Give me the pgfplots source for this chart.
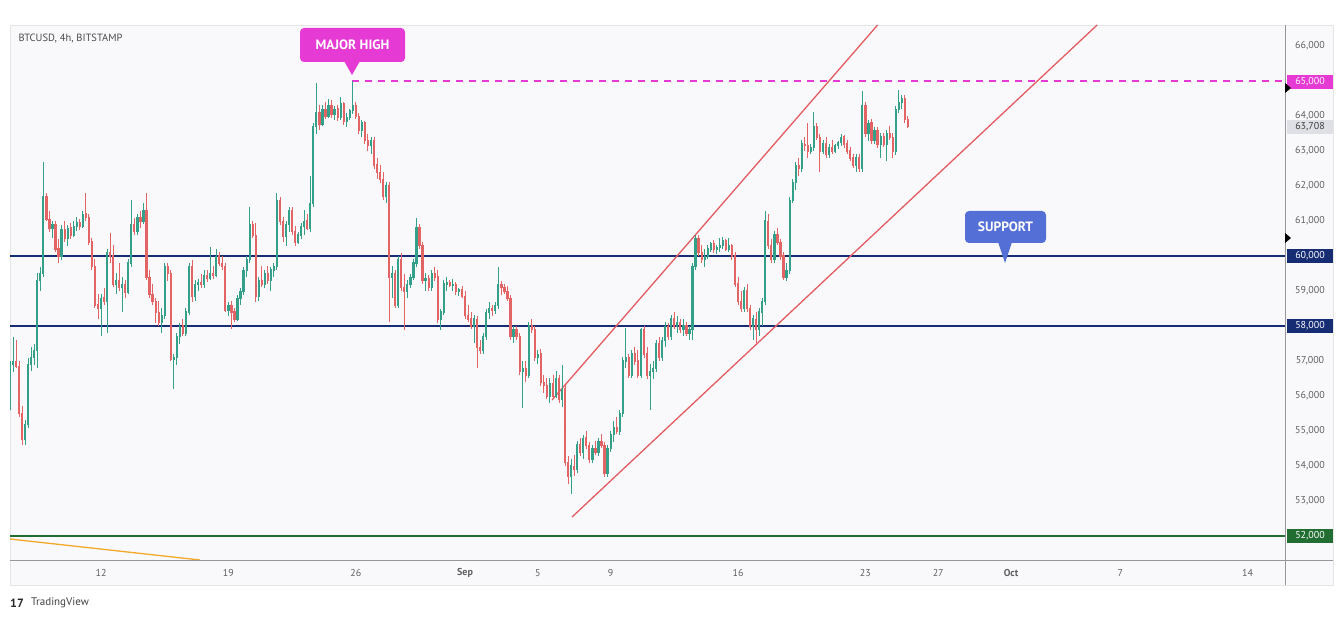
\documentclass[border=0pt]{standalone}
\usepackage{pgfplots}
\pgfplotsset{compat=1.18}
\usepackage{pgfplotstable}
\usepackage{fontspec}
\setmainfont{PT Sans}
\definecolor{upc}{RGB}{52,160,138}
\definecolor{dnc}{RGB}{226,100,100}
\definecolor{navy}{RGB}{22,45,115}
\definecolor{sgreen}{RGB}{34,110,50}
\definecolor{mag}{RGB}{230,58,212}
\definecolor{chan}{RGB}{226,92,98}
\definecolor{orng}{RGB}{242,168,40}
\definecolor{panel}{RGB}{249,249,251}
\definecolor{agray}{RGB}{150,150,156}
\definecolor{tgray}{RGB}{95,95,100}
\definecolor{supblue}{RGB}{84,112,214}
\definecolor{lastg}{RGB}{222,224,230}
\pgfplotstableread{
i o h l c
0 56000 57000 55600 56900
1 56900 57700 56700 57000
2 57000 57600 56800 56850
3 56850 57000 55400 55500
4 55500 55700 54600 54750
5 54750 55300 54600 55200
6 55200 57100 55100 56900
7 56900 57400 56700 57100
8 57100 57500 56900 57300
9 57300 59500 56800 59300
10 59300 59700 59000 59500
11 59500 62700 59400 61700
12 61700 61800 61000 61050
13 61050 61300 60700 60800
14 60800 61000 60500 60900
15 60900 61000 60100 60200
16 60200 60500 59800 60000
17 60000 60900 59900 60750
18 60750 61000 60400 60500
19 60500 60900 60300 60800
20 60800 60950 60500 60600
21 60600 61000 60550 60850
22 60850 61100 60700 60950
23 60950 61050 60750 60850
24 60850 61300 60800 61200
25 61200 61800 61000 61100
26 61100 61200 60300 60400
27 60400 60500 59600 59700
28 59700 59900 58500 58600
29 58600 58900 58200 58500
30 58500 58900 57700 58800
31 58800 59100 58600 58700
32 58700 60200 57800 60100
33 60100 60650 59800 60000
34 60000 60300 59100 59200
35 59200 59500 58900 59300
36 59300 59800 59000 59100
37 59100 59400 58400 59200
38 59200 59300 58800 58950
39 58950 59900 58900 59800
40 59800 61600 59700 60900
41 60900 61100 60600 60700
42 60700 61200 60600 61100
43 61100 61300 60800 61000
44 61000 61500 60900 61300
45 61300 61800 59300 59400
46 59400 59600 58800 58900
47 58900 59200 58600 58700
48 58700 58800 58100 58400
49 58400 58700 58000 58100
50 58100 58500 57800 58300
51 58300 59800 58200 59700
52 59700 59800 59300 59500
53 59500 59600 57000 57050
54 57050 57200 56200 57100
55 57100 57800 56900 57700
56 57700 58100 57500 58000
57 58000 58200 57700 57800
58 57800 58500 57700 58400
59 58400 59800 58300 59700
60 59700 59900 58700 58850
61 58850 59300 58700 59200
62 59200 59350 59000 59250
63 59250 59500 59100 59200
64 59200 59600 59100 59450
65 59450 59600 59250 59350
66 59350 60250 59300 59500
67 59500 59700 59350 59450
68 59450 60200 59400 60000
69 60000 60100 59700 59800
70 59800 60000 59600 59700
71 59700 59800 58400 58450
72 58450 58700 58300 58600
73 58600 58700 57900 58400
74 58400 58500 58100 58200
75 58200 58900 58150 58800
76 58800 59100 58600 59000
77 59000 59700 58900 59600
78 59600 60000 59400 59900
79 59900 61400 59800 60900
80 60900 61000 60500 60600
81 60600 60950 58700 58850
82 58850 59400 58700 59300
83 59300 59700 59100 59200
84 59200 59600 59100 59500
85 59500 59700 59200 59300
86 59300 59700 59000 59600
87 59600 59800 59400 59700
88 59700 61800 59600 61600
89 61600 61700 60900 61000
90 61000 61100 60400 60550
91 60550 61000 60300 60900
92 60900 61400 60700 61300
93 61300 61400 60600 60700
94 60700 60850 60300 60400
95 60400 60700 60350 60600
96 60600 60950 60500 60850
97 60850 61300 60600 61000
98 61000 61200 60750 60800
99 60800 62300 60700 61500
100 61500 63800 61400 63700
101 63700 64950 63500 64100
102 64100 64300 63600 63750
103 63750 64300 63700 64200
104 64200 64400 63900 64000
105 64000 64500 63950 64300
106 64300 64450 63950 64050
107 64050 64300 63900 64200
108 64200 64300 63850 63950
109 63950 64550 63900 64350
110 64350 64400 63750 63850
111 63850 64100 63700 63950
112 63950 64200 63900 64150
113 64150 65000 64050 64300
114 64300 64400 63900 64000
115 64000 64100 63500 63600
116 63600 63900 63400 63800
117 63800 63850 63200 63300
118 63300 63500 63000 63150
119 63150 63400 62900 63300
120 63300 63400 62500 62600
121 62600 62800 62200 62400
122 62400 62600 62100 62200
123 62200 62400 61600 61700
124 61700 62100 61500 62000
125 62000 62100 58100 59400
126 59400 59700 58800 59500
127 59500 59600 58500 58600
128 58600 60000 58500 59900
129 59900 60100 59000 59100
130 59100 59500 57900 59000
131 59000 59300 58800 59200
132 59200 59500 59100 59400
133 59400 59900 59300 59800
134 59800 61100 59700 60800
135 60800 60900 60200 60300
136 60300 60400 59200 59300
137 59300 59500 59000 59350
138 59350 59450 59000 59100
139 59100 59600 59000 59500
140 59500 59700 59300 59400
141 59400 59600 58100 58200
142 58200 58500 57900 58400
143 58400 59300 58300 59200
144 59200 59400 59000 59250
145 59250 59300 59100 59150
146 59150 59350 59000 59200
147 59200 59250 58900 59000
148 59000 59100 58850 59050
149 59050 59150 58800 58850
150 58850 59000 58200 58300
151 58300 58600 58100 58200
152 58200 58400 57900 58000
153 58000 58300 57500 58200
154 58200 58300 56800 57400
155 57400 57600 57200 57300
156 57300 57800 57200 57700
157 57700 58500 57600 58400
158 58400 58700 58200 58500
159 58500 58600 58300 58450
160 58450 58700 58350 58600
161 58600 59700 58500 59200
162 59200 59300 58900 59100
163 59100 59200 58900 59000
164 59000 59150 58700 58800
165 58800 58900 57600 57700
166 57700 58000 57500 57900
167 57900 58000 57600 57700
168 57700 57800 56600 56700
169 56700 57000 55650 56800
170 56800 57000 56400 56600
171 56600 58100 56500 58000
172 58000 58200 57800 57900
173 57900 58000 57000 57100
174 57100 57300 56900 57200
175 57200 57350 56300 56400
176 56400 56600 56100 56300
177 56300 56500 55900 56000
178 56000 56500 55800 56350
179 56350 56600 55900 56000
180 56000 56700 55950 56500
181 56500 56600 55800 55900
182 55900 56900 55700 56200
183 56200 56300 54000 54100
184 54100 54300 53500 53700
185 53700 54200 53200 54000
186 54000 54300 53700 53900
187 53900 54700 53800 54600
188 54600 54800 54300 54400
189 54400 54900 54200 54800
190 54800 55000 54500 54600
191 54600 54700 54100 54200
192 54200 54600 54100 54500
193 54500 54700 54300 54400
194 54400 54800 54300 54700
195 54700 54900 54500 54600
196 54600 54700 53700 53800
197 53800 54600 53700 54500
198 54500 55000 54400 54900
199 54900 55300 54700 55100
200 55100 55400 54900 55000
201 55000 55600 54900 55500
202 55500 57100 55400 57000
203 57000 57950 56800 57100
204 57100 57200 56500 56600
205 56600 57300 56500 57200
206 57200 57400 56900 57000
207 57000 57300 56500 56600
208 56600 57950 56500 57900
209 57900 58000 57100 57200
210 57200 57400 56500 56600
211 56600 56900 55600 56700
212 56700 57000 56500 56800
213 56800 57600 56700 57500
214 57500 57700 57000 57100
215 57100 57700 57000 57600
216 57600 58100 57400 58000
217 58000 58100 57600 57700
218 57700 58300 57600 58200
219 58200 58400 57900 58000
220 58000 58300 57800 58100
221 58100 58200 57800 57900
222 57900 58200 57700 58000
223 58000 58100 57700 57800
224 57800 58000 57600 57900
225 57900 59800 57600 59700
226 59700 60600 59600 60500
227 60500 60600 60000 60100
228 60100 60300 59800 59900
229 59900 60200 59700 60000
230 60000 60300 59900 60200
231 60200 60400 60100 60350
232 60350 60450 60100 60200
233 60200 60300 60050 60250
234 60250 60500 60100 60300
235 60300 60550 60200 60450
236 60450 60500 60150 60200
237 60200 60500 60100 60300
238 60300 60350 59900 60000
239 60000 60100 59100 59200
240 59200 59400 58600 58700
241 58700 59000 58400 58500
242 58500 59100 58400 59000
243 59000 59200 58400 58500
244 58500 58600 57900 58000
245 58000 58300 57600 58200
246 58200 58400 57500 57900
247 57900 58500 57700 58400
248 58400 58800 58000 58700
249 58700 61300 58600 61000
250 61000 61200 60200 60300
251 60300 60500 59800 59900
252 59900 60700 59800 60600
253 60600 60800 60300 60400
254 60400 60500 59900 60000
255 60000 60100 59300 59400
256 59400 59800 59300 59600
257 59600 61700 59500 61600
258 61600 62200 61500 62100
259 62100 62700 61900 62600
260 62600 62800 62300 62500
261 62500 63300 62400 63200
262 63200 63400 63000 63150
263 63150 63800 62800 63000
264 63000 63200 62900 63100
265 63100 64100 63000 63700
266 63700 63800 63300 63400
267 63400 63500 62400 63000
268 63000 63300 62900 63200
269 63200 63400 62800 62900
270 62900 63200 62800 63100
271 63100 63300 62900 63000
272 63000 63200 62950 63150
273 63150 63300 63050 63250
274 63250 63500 63150 63400
275 63400 63450 63100 63200
276 63200 63300 62900 63000
277 63000 63100 62700 62800
278 62800 62900 62500 62600
279 62600 62900 62400 62800
280 62800 62900 62400 62500
281 62500 64700 62400 64300
282 64300 64400 63400 63500
283 63500 63900 63300 63800
284 63800 63900 63200 63300
285 63300 63700 63200 63600
286 63600 63700 63100 63200
287 63200 63500 62800 63400
288 63400 63500 63100 63200
289 63200 63600 62700 63500
290 63500 63700 63300 63400
291 63400 63500 62800 63000
292 63000 64300 62900 64200
293 64200 64750 64100 64400
294 64400 64600 64200 64500
295 64500 64600 63800 63900
296 63900 64000 63650 63708
}\ohlc
\pgfplotsset{candle/.style={only marks, mark=*, mark size=0pt,
  mark options={draw=none, fill=none}, forget plot}}
\begin{document}
\begin{tikzpicture}[x=1pt,y=1pt]
\fill[white] (0,0) rectangle (1343,619);
\fill[panel] (10,34) rectangle (1333,594);
\draw[black!10, line width=0.6pt] (10,34) rectangle (1333,594);
\begin{axis}[
  at={(10pt,59pt)}, anchor=south west, scale only axis,
  width=1275pt, height=535pt,
  xmin=7, xmax=77.05, ymin=51314, ymax=66600,
  axis line style={draw=none}, major tick length=0pt,
  ytick={53000,54000,55000,56000,57000,59000,61000,62000,63000,64000,66000},
  yticklabel pos=right,
  yticklabel style={font=\fontsize{10}{12}\selectfont, text=tgray, anchor=center, xshift=25pt},
  scaled y ticks=false,
  /pgf/number format/1000 sep={,},
  /pgf/number format/assume math mode=true,
  xtick={12,19,26,32,36,40,47,54,58,62,68,75},
  xticklabels={12,19,26,\textbf{Sep},5,9,16,23,27,\textbf{Oct},7,14},
  xticklabel style={font=\fontsize{10}{12}\selectfont, text=tgray, anchor=center, yshift=-13pt},
  clip=true,
]
% horizontal levels
\addplot[navy, line width=1.3pt, forget plot] coordinates {(7,60000) (77.05,60000)};
\addplot[navy, line width=1.3pt, forget plot] coordinates {(7,58000) (77.05,58000)};
\addplot[sgreen, line width=1.3pt, forget plot] coordinates {(7,52000) (77.05,52000)};
\addplot[mag, line width=1.1pt, dash pattern=on 7pt off 6pt, forget plot] coordinates {(25.79,65000) (77.05,65000)};
% channel
\addplot[chan, line width=1.3pt, forget plot] coordinates {(36.78,55886) (54.67,66600)};
\addplot[chan, line width=1.3pt, forget plot] coordinates {(37.88,52543) (66.73,66600)};
% orange trend
\addplot[orng, line width=1.3pt, forget plot] coordinates {(7,51914) (17.44,51314)};
% wicks up
\addplot[candle,
  restrict expr to domain={\thisrow{c}-\thisrow{o}}{0:100000},
  error bars/.cd, y dir=both, y explicit, error mark=none,
  error bar style={draw=upc, line width=0.9pt}]
  table[x expr=7+\thisrow{i}/6, y expr=(\thisrow{h}+\thisrow{l})/2, y error expr=(\thisrow{h}-\thisrow{l})/2] {\ohlc};
% wicks down
\addplot[candle,
  restrict expr to domain={\thisrow{c}-\thisrow{o}}{-100000:-1},
  error bars/.cd, y dir=both, y explicit, error mark=none,
  error bar style={draw=dnc, line width=0.9pt}]
  table[x expr=7+\thisrow{i}/6, y expr=(\thisrow{h}+\thisrow{l})/2, y error expr=(\thisrow{h}-\thisrow{l})/2] {\ohlc};
% bodies up
\addplot[candle,
  restrict expr to domain={\thisrow{c}-\thisrow{o}}{0:100000},
  error bars/.cd, y dir=both, y explicit, error mark=none,
  error bar style={draw=upc, line width=2.2pt}]
  table[x expr=7+\thisrow{i}/6, y expr=(\thisrow{o}+\thisrow{c})/2, y error expr=abs(\thisrow{c}-\thisrow{o})/2+15] {\ohlc};
% bodies down
\addplot[candle,
  restrict expr to domain={\thisrow{c}-\thisrow{o}}{-100000:-1},
  error bars/.cd, y dir=both, y explicit, error mark=none,
  error bar style={draw=dnc, line width=2.2pt}]
  table[x expr=7+\thisrow{i}/6, y expr=(\thisrow{o}+\thisrow{c})/2, y error expr=abs(\thisrow{c}-\thisrow{o})/2+15] {\ohlc};
\end{axis}
% separators
\draw[agray, line width=0.8pt] (1285,594) -- (1285,34);
\draw[agray, line width=0.8pt] (10,59) -- (1333,59);
% price labels
\tikzset{plab/.style={minimum width=46pt, minimum height=14pt, inner sep=0pt, font=\fontsize{10}{12}\selectfont}}
\node[plab, fill=mag, text=white] at (1310,537) {65,000};
\node[plab, fill=lastg, text=black!75] at (1310,492) {63,708};
\node[plab, fill=navy, text=white] at (1310,363) {60,000};
\node[plab, fill=navy, text=white] at (1310,293) {58,000};
\node[plab, fill=sgreen, text=white] at (1310,83) {52,000};
% small arrows
\fill[black] (1285,536) -- (1291,531) -- (1285,526) -- cycle;
\fill[black] (1285,386) -- (1291,381) -- (1285,376) -- cycle;
% title
\node[anchor=west, text=black!70, font=\fontsize{10.5}{12}\selectfont] at (15,580) {BTCUSD, 4h, BITSTAMP};
% MAJOR HIGH callout
\fill[mag, rounded corners=4pt] (300,557) rectangle (405,591);
\fill[mag] (344,558) -- (352,544) -- (360,558) -- cycle;
\node[text=white, font=\bfseries\fontsize{13.5}{15}\selectfont] at (352.5,574) {MAJOR HIGH};
% SUPPORT callout
\fill[supblue, rounded corners=4pt] (965,376) rectangle (1046,408);
\fill[supblue] (998,377) -- (1005,356) -- (1012,377) -- cycle;
\node[text=white, font=\bfseries\fontsize{13.5}{15}\selectfont] at (1005.5,392) {SUPPORT};
% TradingView logo
\node[anchor=west, text=black!85, font=\bfseries\fontsize{12}{14}\selectfont, inner sep=0pt] at (10,16) {17};
\node[anchor=west, text=black!75, font=\fontsize{11}{13}\selectfont, inner sep=0pt] at (31,16) {TradingView};
\pgfresetboundingbox
\path (0,0) rectangle (1343,619);
\end{tikzpicture}
\end{document}
